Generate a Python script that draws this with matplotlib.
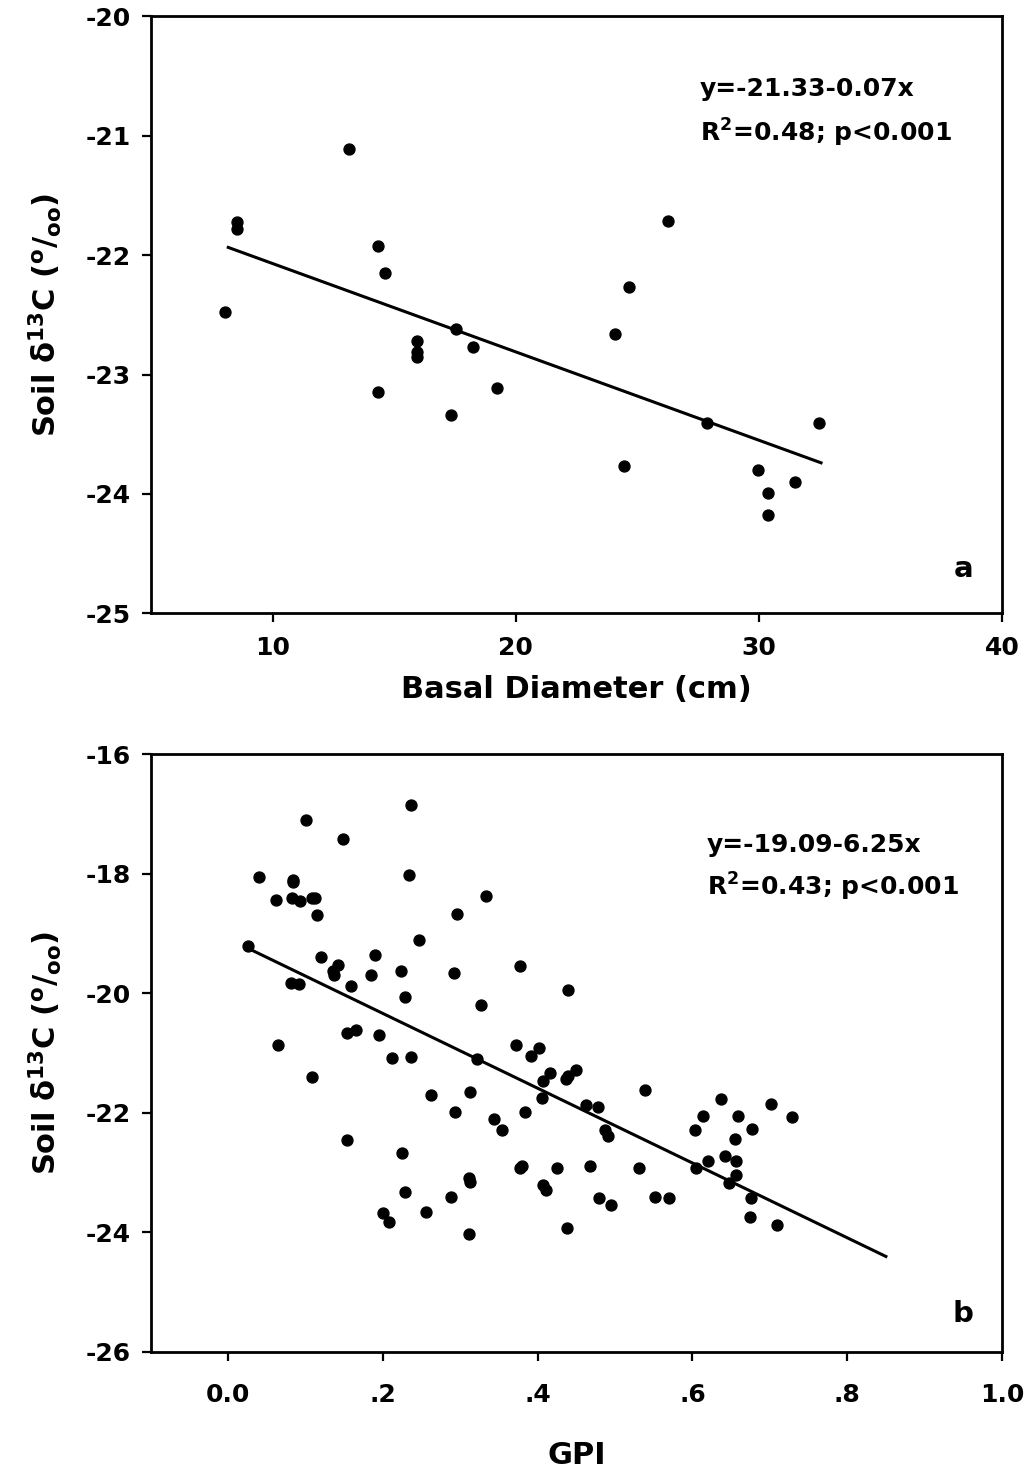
import matplotlib
matplotlib.use("Agg")
import matplotlib.pyplot as plt
import numpy as np

plt.rcParams['font.family'] = ['DejaVu Sans']
plt.rcParams['font.weight'] = 'bold'
plt.rcParams['mathtext.default'] = 'bf'
plt.rcParams['axes.unicode_minus'] = False

# panel a: basal diameter (cm) vs soil d13C
diam = [8.04, 8.53, 8.53, 13.15, 14.34, 14.64, 17.53, 15.93, 15.93, 15.93,
        18.25, 14.34, 19.25, 17.36, 26.26, 24.66, 24.07, 27.86, 32.48, 24.47,
        29.97, 31.48, 30.37, 30.37]
d13c_a = [-22.48, -21.72, -21.78, -21.11, -21.92, -22.15, -22.62, -22.72, -22.81, -22.85,
          -22.77, -23.15, -23.11, -23.34, -21.71, -22.27, -22.66, -23.41, -23.41, -23.77,
          -23.80, -23.90, -23.99, -24.18]
fit_a = (-21.33, -0.074)
fit_a_range = (8.18, 32.56)

# panel b: GPI vs soil d13C
gpi = [0.236, 0.100, 0.148, 0.040, 0.083, 0.083, 0.234, 0.062, 0.082, 0.093,
       0.108, 0.112, 0.114, 0.247, 0.025, 0.120, 0.189, 0.142, 0.135, 0.136,
       0.184, 0.223, 0.081, 0.092, 0.159, 0.228, 0.153, 0.165, 0.195, 0.064,
       0.212, 0.236, 0.108, 0.262, 0.154, 0.225, 0.228, 0.333, 0.295, 0.292,
       0.377, 0.439, 0.326, 0.372, 0.401, 0.391, 0.321, 0.416, 0.407, 0.436,
       0.439, 0.450, 0.406, 0.539, 0.312, 0.293, 0.343, 0.354, 0.383, 0.462,
       0.478, 0.487, 0.491, 0.637, 0.702, 0.729, 0.614, 0.659, 0.603, 0.677,
       0.655, 0.642, 0.656, 0.620, 0.656, 0.647, 0.604, 0.531, 0.467, 0.425,
       0.380, 0.377, 0.311, 0.312, 0.407, 0.410, 0.288, 0.479, 0.551, 0.569,
       0.676, 0.495, 0.200, 0.208, 0.256, 0.311, 0.438, 0.674, 0.709]
d13c_b = [-16.85, -17.11, -17.42, -18.05, -18.10, -18.14, -18.03, -18.44, -18.40, -18.45,
          -18.41, -18.41, -18.70, -19.11, -19.21, -19.39, -19.36, -19.53, -19.63, -19.69,
          -19.69, -19.63, -19.83, -19.84, -19.88, -20.06, -20.67, -20.61, -20.70, -20.87,
          -21.09, -21.07, -21.40, -21.70, -22.45, -22.68, -23.33, -18.38, -18.67, -19.67,
          -19.55, -19.95, -20.19, -20.86, -20.91, -21.05, -21.10, -21.34, -21.47, -21.43,
          -21.38, -21.29, -21.75, -21.62, -21.66, -21.99, -22.10, -22.28, -21.98, -21.87,
          -21.91, -22.28, -22.39, -21.77, -21.86, -22.07, -22.05, -22.06, -22.28, -22.27,
          -22.43, -22.73, -22.80, -22.80, -23.04, -23.17, -22.93, -22.93, -22.89, -22.92,
          -22.89, -22.92, -23.09, -23.16, -23.20, -23.29, -23.40, -23.42, -23.40, -23.42,
          -23.43, -23.55, -23.68, -23.83, -23.66, -24.03, -23.92, -23.75, -23.87]
fit_b = (-19.09, -6.25)
fit_b_range = (0.025, 0.85)

ylab = r'Soil δ$^{13}$C ($^{\rm o}$/$_{\rm oo}$)'

fig = plt.figure(figsize=(10.29, 14.75), dpi=100)
ax1 = fig.add_axes([0.1467, 0.5842, 0.827, 0.4047])
ax2 = fig.add_axes([0.1467, 0.0834, 0.827, 0.4054])


def style(ax, xpad):
    for s in ax.spines.values():
        s.set_linewidth(2.0)
    ax.tick_params(direction='out', length=6.5, width=1.6, labelsize=18,
                   top=False, right=False)
    ax.tick_params(axis='x', pad=xpad)
    ax.tick_params(axis='y', pad=8)
    for lb in ax.get_xticklabels() + ax.get_yticklabels():
        lb.set_fontweight('bold')


def draw_fit(ax, fit, rng):
    xs = np.array(rng)
    ax.plot(xs, fit[0] + fit[1] * xs, color='black', lw=2.2)


ax1.scatter(diam, d13c_a, s=62, color='black', zorder=3)
draw_fit(ax1, fit_a, fit_a_range)
ax1.set_xlim(5, 40)
ax1.set_ylim(-25, -20)
ax1.set_xticks([10, 20, 30, 40])
ax1.set_yticks([-25, -24, -23, -22, -21, -20])
style(ax1, 10)
ax1.set_xlabel('Basal Diameter (cm)', fontsize=22, fontweight='bold')
ax1.xaxis.set_label_coords(0.5, -0.104)
ax1.set_ylabel(ylab, fontsize=22, fontweight='bold')
ax1.yaxis.set_label_coords(-0.102, 0.5)
ax1.text(0.645, 0.867, 'y=-21.33-0.07x', transform=ax1.transAxes,
         fontsize=18, fontweight='bold')
ax1.text(0.645, 0.79, r'R$^2$=0.48; p<0.001', transform=ax1.transAxes,
         fontsize=18, fontweight='bold')
ax1.text(0.967, 0.06, 'a', transform=ax1.transAxes, fontsize=21,
         fontweight='bold', ha='right')

ax2.scatter(gpi, d13c_b, s=62, color='black', zorder=3)
draw_fit(ax2, fit_b, fit_b_range)
ax2.set_xlim(-0.1, 1.0)
ax2.set_ylim(-26, -16)
ax2.set_xticks([0.0, 0.2, 0.4, 0.6, 0.8, 1.0])
ax2.set_xticklabels(['0.0', '.2', '.4', '.6', '.8', '1.0'])
ax2.set_yticks([-26, -24, -22, -20, -18, -16])
style(ax2, 16)
ax2.set_xlabel('GPI', fontsize=22, fontweight='bold')
ax2.xaxis.set_label_coords(0.5, -0.149)
ax2.set_ylabel(ylab, fontsize=22, fontweight='bold')
ax2.yaxis.set_label_coords(-0.102, 0.5)
ax2.text(0.653, 0.836, 'y=-19.09-6.25x', transform=ax2.transAxes,
         fontsize=18, fontweight='bold')
ax2.text(0.653, 0.764, r'R$^2$=0.43; p<0.001', transform=ax2.transAxes,
         fontsize=18, fontweight='bold')
ax2.text(0.967, 0.05, 'b', transform=ax2.transAxes, fontsize=21,
         fontweight='bold', ha='right')

fig.savefig('out.png', dpi=100)
